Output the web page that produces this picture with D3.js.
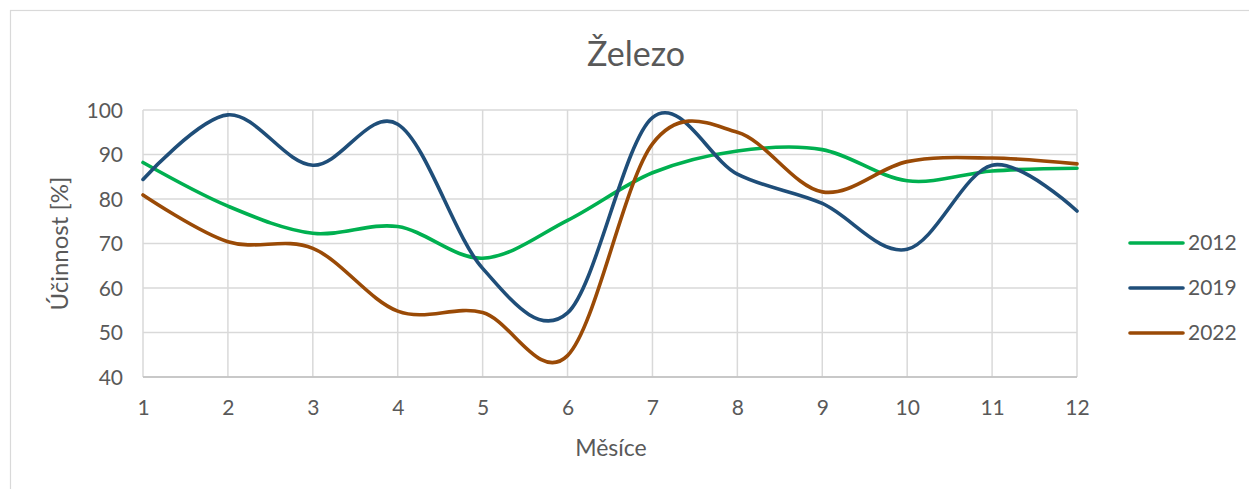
<!DOCTYPE html>
<html>
<head>
<meta charset="utf-8">
<script src="https://cdn.jsdelivr.net/npm/d3@7"></script>
<style>
  html, body { margin: 0; padding: 0; background: #fff; }
  svg { display: block; }
  text { font-family: Lato, "Open Sans", sans-serif; fill: #595959; }
</style>
</head>
<body>
<svg id="chart" width="1249" height="489"></svg>
<script>
const months = [1, 2, 3, 4, 5, 6, 7, 8, 9, 10, 11, 12];
const yTicks = [40, 50, 60, 70, 80, 90, 100];
const seriesNames = ["2012", "2019", "2022"];
const values2012 = [88.2, 78.4, 72.3, 73.8, 66.7, 75.2, 85.9, 90.8, 91.1, 84.1, 86.3, 86.9];
const values2019 = [84.4, 98.9, 87.6, 96.8, 64.4, 54.4, 98.3, 85.6, 79.0, 68.7, 87.6, 77.3];
const values2022 = [80.9, 70.4, 68.9, 54.8, 54.5, 44.8, 92.4, 95.0, 81.6, 88.4, 89.2, 87.9];
const colors = ["#00B050", "#1F4E79", "#9A4A06"];

const series = [values2012, values2019, values2022];

const svg = d3.select("#chart");

// outer chart border
svg.append("rect")
  .attr("x", 10.5).attr("y", 10.5)
  .attr("width", 1260).attr("height", 500)
  .attr("fill", "none").attr("stroke", "#D9D9D9").attr("stroke-width", 1.2);

const x = d3.scaleLinear().domain([1, 12]).range([143, 1077]);
const y = d3.scaleLinear().domain([40, 100]).range([377, 110]);

// gridlines
const grid = svg.append("g");
grid.selectAll("line.h").data(yTicks).join("line")
  .attr("x1", x(1)).attr("x2", x(12))
  .attr("y1", d => y(d)).attr("y2", d => y(d))
  .attr("stroke", "#D9D9D9").attr("stroke-width", 1.5);
grid.selectAll("line.v").data(months).join("line")
  .attr("y1", y(100)).attr("y2", y(40))
  .attr("x1", d => x(d)).attr("x2", d => x(d))
  .attr("stroke", "#D9D9D9").attr("stroke-width", 1.5);

// bottom axis line
svg.append("line")
  .attr("x1", x(1)).attr("x2", x(12))
  .attr("y1", y(40)).attr("y2", y(40))
  .attr("stroke", "#BFBFBF").attr("stroke-width", 1.5);

// axes via d3
const yAxis = d3.axisLeft(y).tickValues(yTicks).tickSize(0).tickPadding(0);
const yg = svg.append("g").attr("transform", `translate(${x(1) - 20},0)`).call(yAxis);
yg.select(".domain").remove();
yg.selectAll("text").attr("font-size", 21).style("font-family", "Lato, sans-serif").attr("fill", "#595959").attr("dy", "0.35em");

const xAxis = d3.axisBottom(x).tickValues(months).tickFormat(d3.format("d")).tickSize(0).tickPadding(0);
const xg = svg.append("g").attr("transform", `translate(0,${y(40) + 31})`).call(xAxis);
xg.select(".domain").remove();
xg.selectAll("text").attr("font-size", 21).style("font-family", "Lato, sans-serif").attr("fill", "#595959").attr("dy", "0.35em");

// lines
const line = d3.line()
  .x((d, i) => x(months[i]))
  .y(d => y(d))
  .curve(d3.curveCatmullRom.alpha(0));

svg.append("g").selectAll("path").data(series).join("path")
  .attr("d", d => line(d))
  .attr("fill", "none")
  .attr("stroke", (d, i) => colors[i])
  .attr("stroke-width", 3.6)
  .attr("stroke-linecap", "round")
  .attr("stroke-linejoin", "round");

// title
svg.append("text")
  .attr("x", 636).attr("y", 66)
  .attr("text-anchor", "middle")
  .attr("font-size", 34)
  .text("Železo");

// axis titles
svg.append("text")
  .attr("transform", `translate(68,${(y(40) + y(100)) / 2}) rotate(-90)`)
  .attr("text-anchor", "middle")
  .attr("font-size", 24)
  .text("Účinnost [%]");

svg.append("text")
  .attr("x", 611).attr("y", 456)
  .attr("text-anchor", "middle")
  .attr("font-size", 23)
  .text("Měsíce");

// legend
const legY = [243, 288, 333];
const leg = svg.append("g").selectAll("g").data(seriesNames).join("g")
  .attr("transform", (d, i) => `translate(1130,${legY[i]})`);
leg.append("line")
  .attr("x1", 0).attr("x2", 53)
  .attr("stroke", (d, i) => colors[i])
  .attr("stroke-width", 3.6)
  .attr("stroke-linecap", "round");
leg.append("text")
  .attr("x", 58).attr("dy", "0.35em")
  .attr("font-size", 21)
  .text(d => d);
</script>
</body>
</html>
